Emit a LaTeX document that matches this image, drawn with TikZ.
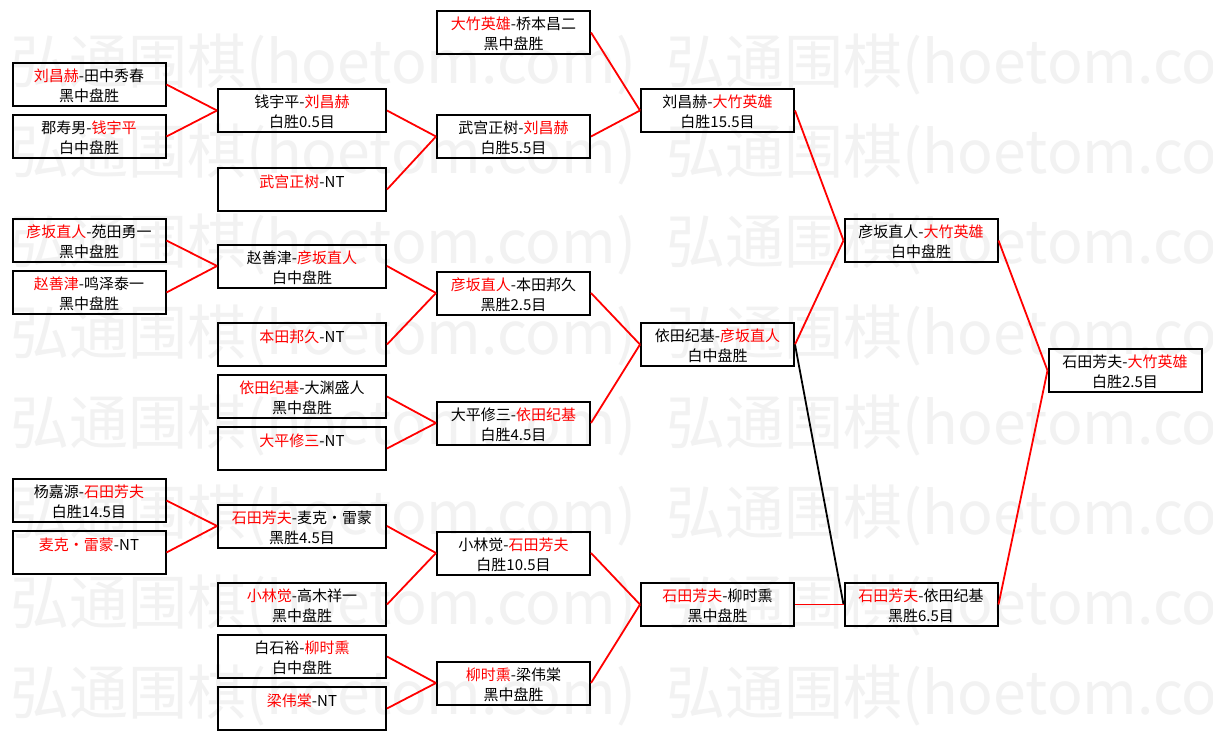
\documentclass[tikz,border=0pt]{standalone}
\usepackage{fontspec}
\setmainfont{Noto Sans CJK SC}
\usepackage{tikz}
\usetikzlibrary{positioning}

% winner's name in red
\newcommand{\win}[1]{\textcolor{red}{#1}}
% two lines of a game box
\newcommand{\game}[2]{\rule{0pt}{16pt}#1\\\mbox{}#2}

\begin{document}
\begin{tikzpicture}[
  x=1pt, y=1pt,
  node distance=7pt,
  match/.style={rectangle,draw=black,line width=2pt,align=center,
    minimum width=153pt,minimum height=43pt,inner sep=0pt,
    font=\fontsize{15}{20}\selectfont},
  wide/.style={match,minimum width=168pt},
  link/.style={draw=red,line width=1.8pt},
  loss/.style={draw=black,line width=1.8pt},
  wmark/.style={anchor=west,inner sep=0pt,text=black!5,
    font=\fontsize{59}{59}\selectfont}
]
\fill[white] (0,0) rectangle (1213,-741);
\useasboundingbox (0,0) rectangle (1213,-741);

% watermark rows
\foreach \row in {0,...,7}
  \foreach \col in {10,666}
    \node[wmark] at (\col,-65-90*\row) {弘通围棋(hoetom.com)};

% round 1
\node[match] (r1a) at (89,-84.5) {\game{\win{刘昌赫}-田中秀春}{黑中盘胜}};
\node[match,below=of r1a] (r1b) {\game{郡寿男-\win{钱宇平}}{白中盘胜}};
\node[match] (r1c) at (89,-240.5) {\game{\win{彦坂直人}-苑田勇一}{黑中盘胜}};
\node[match,below=of r1c] (r1d) {\game{\win{赵善津}-鸣泽泰一}{黑中盘胜}};
\node[match] (r1e) at (89,-500.5) {\game{杨嘉源-\win{石田芳夫}}{白胜14.5目}};
\node[match,below=of r1e] (r1f) {\game{\win{麦克・雷蒙}-NT}{}};

% round 2
\node[wide] (r2a) at (302,-110.5) {\game{钱宇平-\win{刘昌赫}}{白胜0.5目}};
\node[wide] (r2b) at (302,-189.5) {\game{\win{武宫正树}-NT}{}};
\node[wide] (r2c) at (302,-266) {\game{赵善津-\win{彦坂直人}}{白中盘胜}};
\node[wide] (r2d) at (302,-344.5) {\game{\win{本田邦久}-NT}{}};
\node[wide,below=of r2d] (r2e) {\game{\win{依田纪基}-大渊盛人}{黑中盘胜}};
\node[wide,below=of r2e] (r2f) {\game{\win{大平修三}-NT}{}};
\node[wide] (r2g) at (302,-526) {\game{\win{石田芳夫}-麦克・雷蒙}{黑胜4.5目}};
\node[wide] (r2h) at (302,-604.5) {\game{\win{小林觉}-高木祥一}{黑中盘胜}};
\node[wide,below=of r2h] (r2i) {\game{白石裕-\win{柳时熏}}{白中盘胜}};
\node[wide,below=of r2i] (r2j) {\game{\win{梁伟棠}-NT}{}};

% round 3
\node[match] (r3a) at (513.5,-32.5) {\game{\win{大竹英雄}-桥本昌二}{黑中盘胜}};
\node[match] (r3b) at (513.5,-136.5) {\game{武宫正树-\win{刘昌赫}}{白胜5.5目}};
\node[match] (r3c) at (513.5,-293) {\game{\win{彦坂直人}-本田邦久}{黑胜2.5目}};
\node[match] (r3d) at (513.5,-423) {\game{大平修三-\win{依田纪基}}{白胜4.5目}};
\node[match] (r3e) at (513.5,-553) {\game{小林觉-\win{石田芳夫}}{白胜10.5目}};
\node[match] (r3f) at (513.5,-683) {\game{\win{柳时熏}-梁伟棠}{黑中盘胜}};

% round 4
\node[match] (r4a) at (717.5,-110.5) {\game{刘昌赫-\win{大竹英雄}}{白胜15.5目}};
\node[match] (r4b) at (717.5,-344.5) {\game{依田纪基-\win{彦坂直人}}{白中盘胜}};
\node[match] (r4c) at (717.5,-604.5) {\game{\win{石田芳夫}-柳时熏}{黑中盘胜}};

% round 5 and final
\node[match] (r5a) at (921,-240.5) {\game{彦坂直人-\win{大竹英雄}}{白中盘胜}};
\node[match] (r5b) at (921,-604.5) {\game{\win{石田芳夫}-依田纪基}{黑胜6.5目}};
\node[match] (fin) at (1125,-370.5) {\game{石田芳夫-\win{大竹英雄}}{白胜2.5目}};

\draw[link] (r1a.east) -- (r2a.west);
\draw[link] (r1b.east) -- (r2a.west);
\draw[link] (r1c.east) -- (r2c.west);
\draw[link] (r1d.east) -- (r2c.west);
\draw[link] (r1e.east) -- (r2g.west);
\draw[link] (r1f.east) -- (r2g.west);

\draw[link] (r2a.east) -- (r3b.west);
\draw[link] (r2b.east) -- (r3b.west);
\draw[link] (r2c.east) -- (r3c.west);
\draw[link] (r2d.east) -- (r3c.west);
\draw[link] (r2e.east) -- (r3d.west);
\draw[link] (r2f.east) -- (r3d.west);
\draw[link] (r2g.east) -- (r3e.west);
\draw[link] (r2h.east) -- (r3e.west);
\draw[link] (r2i.east) -- (r3f.west);
\draw[link] (r2j.east) -- (r3f.west);

\draw[link] (r3a.east) -- (r4a.west);
\draw[link] (r3b.east) -- (r4a.west);
\draw[link] (r3c.east) -- (r4b.west);
\draw[link] (r3d.east) -- (r4b.west);
\draw[link] (r3e.east) -- (r4c.west);
\draw[link] (r3f.east) -- (r4c.west);

\draw[link] (r4a.east) -- (r5a.west);
\draw[link] (r4b.east) -- (r5a.west);
% the loser of this game drops to the lower final
\draw[loss] (r4b.east) -- (r5b.west);
\draw[link] (r4c.east) -- (r5b.west);

\draw[link] (r5a.east) -- (fin.west);
\draw[link] (r5b.east) -- (fin.west);
\end{tikzpicture}
\end{document}
